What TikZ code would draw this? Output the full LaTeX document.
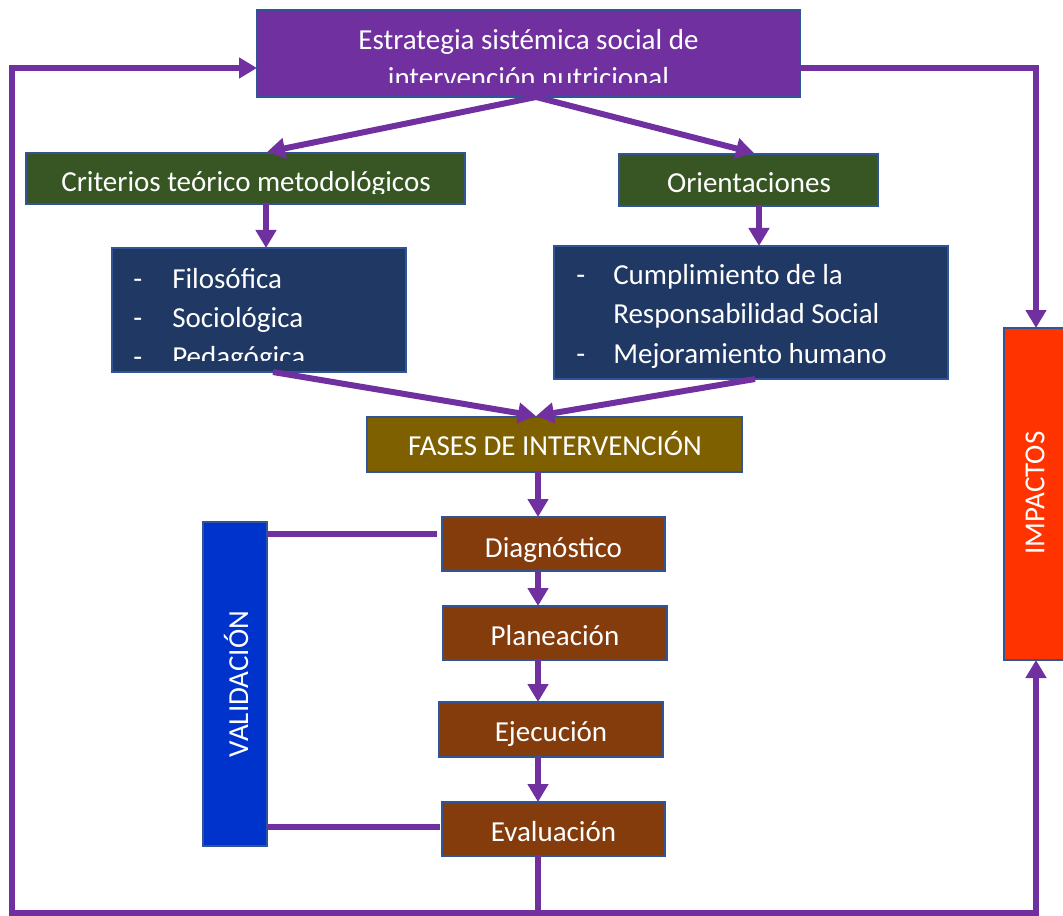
\documentclass[tikz,border=0pt]{standalone}
\usepackage{fontspec}
\setmainfont{Carlito}
\usetikzlibrary{arrows.meta,fit}
\definecolor{lila}{HTML}{7030A0}
\definecolor{rim}{HTML}{2F5597}
\definecolor{leaf}{HTML}{375623}
\definecolor{navy}{HTML}{203864}
\definecolor{olive}{HTML}{7F6000}
\definecolor{rust}{HTML}{843C0C}
\definecolor{royal}{HTML}{0033CC}
\definecolor{flame}{HTML}{FF3300}
\tikzset{
  box/.style={draw=rim, line width=1.5pt, inner sep=0pt, outer sep=0pt},
  conn/.style={draw=lila, line width=4.5pt},
  arr/.style={conn, -{Triangle[width=15pt,length=13.5pt]}},
  lbl/.style={text=white, font=\fontsize{21.75}{28}\selectfont, inner sep=0pt, anchor=base},
  lblw/.style={lbl, anchor=base west},
}
\begin{document}
\begin{tikzpicture}[x=0.75pt,y=-0.75pt]
\useasboundingbox (0,0) rectangle (1063,916);

% ---------- boxes ----------
\node[box, fill=lila, fit={(257,10)(800,97)}] (topbox) {};
\node[box, fill=leaf, fit={(26,153)(465,204)}] (crit) {};
\node[box, fill=leaf, fit={(619,154)(878,206)}] (orient) {};
\node[box, fill=navy, fit={(112,248)(406,372)}] (filo) {};
\node[box, fill=navy, fit={(554,246)(948,379)}] (resp) {};
\node[box, fill=olive, fit={(367,417)(742,472)}] (fases) {};
\node[box, fill=rust, fit={(442,517)(665,571)}] (diag) {};
\node[box, fill=rust, fit={(443,606)(667,660)}] (plan) {};
\node[box, fill=rust, fit={(439,702)(663,757)}] (ejec) {};
\node[box, fill=rust, fit={(442,802)(665,856)}] (eval) {};
\node[box, fill=royal, fit={(203,522)(267,846)}] (valid) {};
\node[box, fill=flame, fit={(1004,328)(1068,660)}] (impact) {};

% ---------- texts ----------
\begin{scope}
  \clip (258,11) rectangle (799,83);
  \node[lbl] (t1) at (528.5,50) {Estrategia sistémica social de};
  \node[lbl] (t2) at (528.5,88) {intervención nutricional};
\end{scope}
\begin{scope}
  \clip (27,154) rectangle (464,193.5);
  \node[lbl] (t3) at (246,192) {Criterios teórico metodológicos};
\end{scope}
\node[lbl] (t4) at (749,193) {Orientaciones};
\begin{scope}
  \clip (113,249) rectangle (405,360.5);
  \node[lblw] (d1) at (133,288) {-};
  \node[lblw] (f1) at (172,288) {Filosófica};
  \node[lblw] (d2) at (133,327) {-};
  \node[lblw] (f2) at (172,327) {Sociológica};
  \node[lblw] (d3) at (133,366) {-};
  \node[lblw] (f3) at (172,366) {Pedagógica};
\end{scope}
\node[lblw] (d4) at (576,285) {-};
\node[lblw] (r1) at (613,285) {Cumplimiento de la};
\node[lblw] (r2) at (613,323) {Responsabilidad Social};
\node[lblw] (d5) at (576,363) {-};
\node[lblw] (r3) at (613,363) {Mejoramiento humano};
\node[lbl] (t5) at (555,455) {FASES DE INTERVENCIÓN};
\node[lbl] (t6) at (553.5,557) {Diagnóstico};
\node[lbl] (t7) at (555,645) {Planeación};
\node[lbl] (t8) at (551,741) {Ejecución};
\node[lbl] (t9) at (553.5,841) {Evaluación};
\node[lbl, rotate=90, anchor=center] (t10) at (236,684) {VALIDACIÓN};
\node[lbl, rotate=90, anchor=center] (t11) at (1035,493) {IMPACTOS};

% ---------- helper coordinates ----------
\coordinate (spine) at (538,0);
\coordinate (hub) at (538,913);
\coordinate (loopL) at (12,913);
\coordinate (inY) at (0,68);
\coordinate (split) at (536,97);
\coordinate (critIn) at (267,152);
\coordinate (orientIn) at (754,153);
\coordinate (cxL) at (266,0);
\coordinate (cxR) at (759,0);
\coordinate (fa) at (273,0);
\coordinate (fb) at (755,0);
\coordinate (fIn) at (536,416);
\coordinate (vd1) at (437,534);
\coordinate (vd2) at (440,827);

% ---------- connectors ----------
\draw[arr] (hub) -- (loopL) |- (topbox.west |- inY);
\draw[arr] (topbox.east |- inY) -| (impact.north);
\draw[arr] (hub) -| (impact.south);
\draw[conn] (spine |- eval.south) -- (hub);
\draw[arr] (split) -- (critIn);
\draw[arr] (split) -- (orientIn);
\draw[arr] (cxL |- crit.south) -- (cxL |- filo.north);
\draw[arr] (cxR |- orient.south) -- (cxR |- resp.north);
\draw[arr] (fa |- filo.south) -- (fIn);
\draw[arr] (fb |- resp.south) -- (fIn);
\draw[arr] (spine |- fases.south) -- (spine |- diag.north);
\draw[arr] (spine |- diag.south) -- (spine |- plan.north);
\draw[arr] (spine |- plan.south) -- (spine |- ejec.north);
\draw[arr] (spine |- ejec.south) -- (spine |- eval.north);
\draw[conn] (valid.east |- vd1) -- (vd1);
\draw[conn] (valid.east |- vd2) -- (vd2);
\end{tikzpicture}
\end{document}
